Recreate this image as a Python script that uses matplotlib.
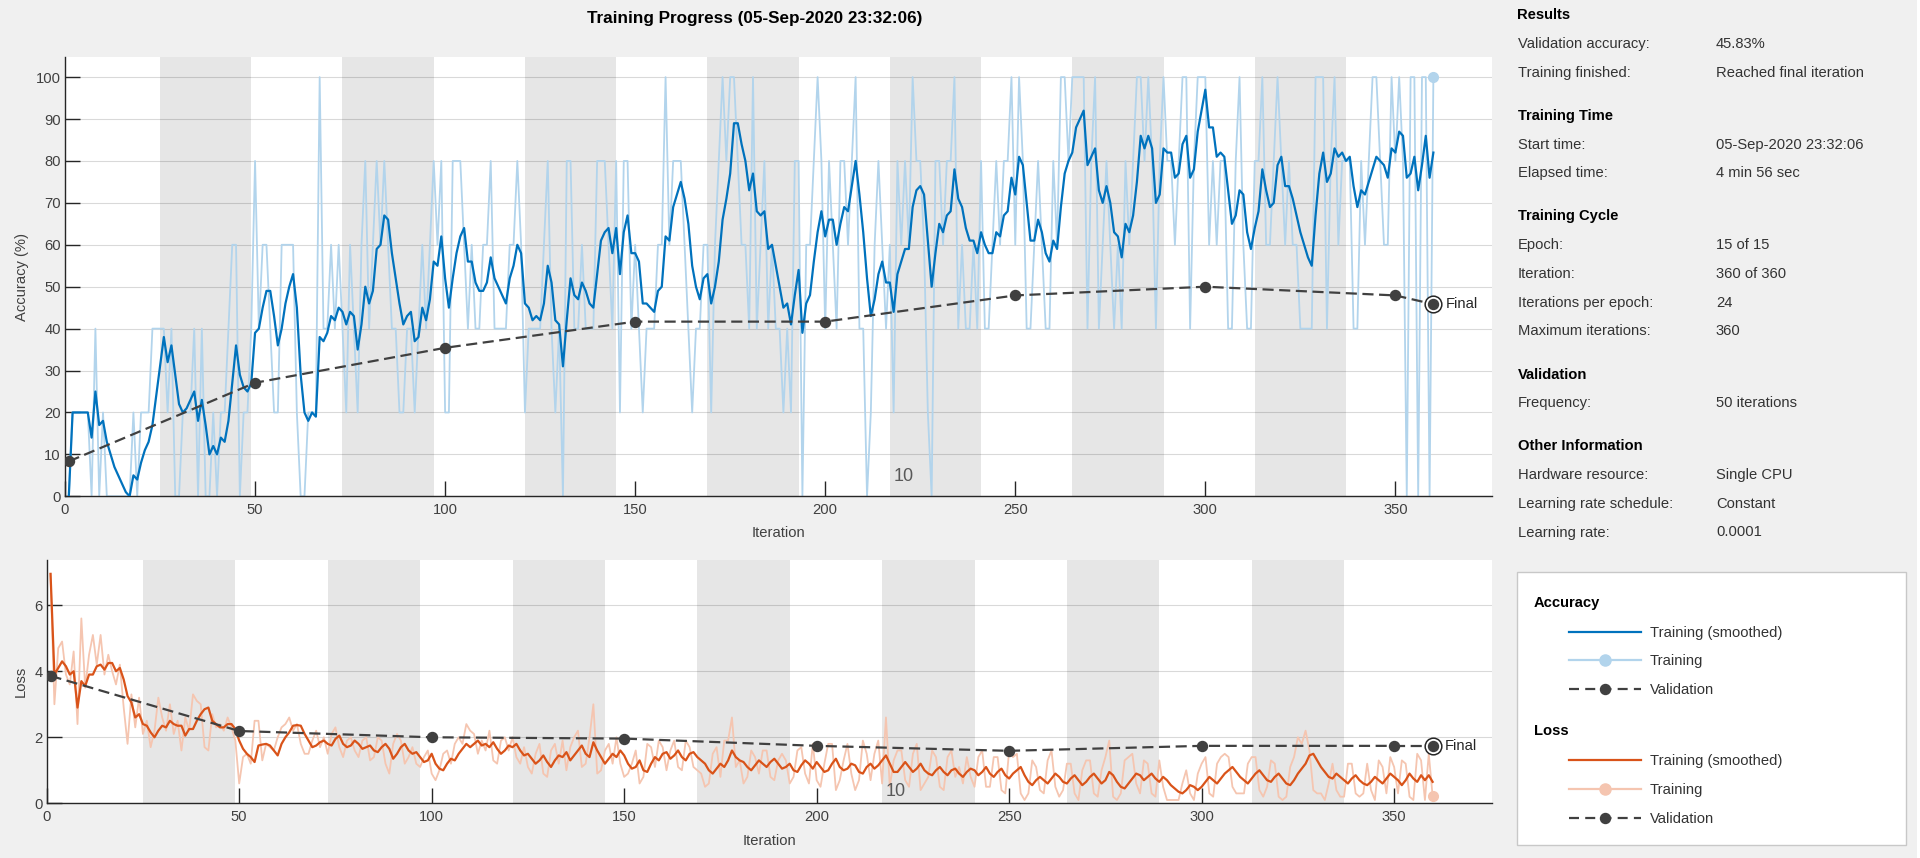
"""Training progress plot (accuracy + loss) in the style of the MATLAB monitor."""

import matplotlib.pyplot as plt
import numpy as np
from matplotlib.lines import Line2D
from matplotlib.patches import Rectangle

plt.rcParams["font.family"] = ["Liberation Sans", "DejaVu Sans"]

FS = 10.6
W, H = 1920, 858

ITER_PER_EPOCH = 24
N_EPOCH = 15

# training accuracy per iteration (mini-batch of 5 -> steps of 20 %)
ACC_TRAIN = [
    0, 20, 20, 20, 20, 20, 0, 40, 0, 20, 0, 0, 0, 0, 0, 0, 0, 20, 0, 20, 20, 20, 40, 40,
    40, 40, 20, 40, 0, 0, 20, 20, 20, 40, 0, 40, 0, 0, 20, 0, 20, 20, 40, 60, 60, 0, 20, 20,
    40, 80, 40, 60, 60, 40, 20, 20, 60, 60, 60, 60, 20, 0, 0, 20, 20, 20, 100, 40, 40, 60, 40, 60,
    40, 20, 60, 40, 20, 60, 80, 40, 60, 80, 60, 80, 60, 40, 40, 20, 20, 40, 40, 20, 40, 60, 40, 60,
    80, 60, 80, 20, 20, 80, 80, 80, 60, 40, 60, 40, 40, 60, 60, 80, 40, 40, 40, 40, 60, 60, 80, 60,
    20, 40, 40, 40, 40, 60, 80, 40, 20, 40, 0, 80, 80, 40, 40, 60, 40, 40, 40, 80, 80, 80, 60, 40,
    80, 20, 80, 80, 40, 60, 40, 20, 40, 40, 40, 60, 60, 100, 60, 80, 80, 80, 60, 40, 20, 40, 40, 60,
    60, 20, 60, 80, 100, 80, 100, 100, 80, 60, 60, 40, 100, 40, 60, 80, 40, 60, 40, 40, 20, 40, 20, 80,
    80, 0, 60, 60, 80, 100, 80, 40, 80, 60, 40, 80, 80, 60, 80, 100, 40, 40, 0, 20, 60, 80, 60, 40,
    60, 20, 80, 60, 80, 60, 100, 80, 80, 60, 20, 0, 80, 80, 60, 80, 80, 100, 40, 60, 40, 40, 60, 40,
    80, 40, 40, 60, 80, 60, 80, 80, 100, 60, 100, 80, 40, 40, 60, 80, 60, 40, 40, 80, 60, 100, 100, 80,
    100, 100, 100, 100, 40, 80, 100, 40, 60, 80, 60, 40, 60, 40, 80, 60, 80, 100, 100, 80, 100, 80, 40, 80,
    100, 80, 80, 60, 80, 100, 100, 40, 80, 100, 100, 100, 60, 80, 60, 80, 80, 40, 40, 80, 100, 60, 40, 40,
    80, 80, 100, 60, 60, 80, 100, 80, 60, 80, 60, 60, 40, 40, 40, 40, 100, 100, 100, 40, 80, 100, 60, 80,
    80, 80, 40, 40, 80, 60, 80, 100, 100, 80, 60, 60, 100, 80, 100, 80, 0, 100, 100, 0, 100, 100, 0, 100,
]

ACC_SMOOTH = [
    0, 20, 20, 20, 20, 20, 14, 25, 17, 18, 13, 10, 7, 5, 3, 1, 0, 5, 4, 8, 11, 13, 17, 24,
    31, 38, 32, 36, 29, 22, 20, 21, 23, 25, 18, 23, 17, 10, 12, 10, 14, 13, 18, 27, 36, 29, 26, 25,
    27, 39, 40, 45, 49, 49, 43, 36, 40, 46, 50, 53, 45, 29, 20, 18, 20, 19, 38, 37, 39, 43, 42, 45,
    44, 41, 44, 43, 35, 41, 50, 46, 49, 59, 60, 67, 66, 58, 52, 46, 41, 43, 44, 37, 38, 45, 42, 47,
    56, 55, 62, 52, 45, 52, 58, 62, 64, 56, 56, 51, 49, 49, 51, 57, 52, 50, 48, 46, 52, 55, 60, 58,
    46, 45, 42, 43, 42, 46, 55, 51, 42, 41, 31, 42, 52, 48, 47, 51, 49, 46, 45, 53, 61, 63, 64, 58,
    64, 53, 63, 67, 58, 58, 56, 46, 46, 45, 44, 49, 50, 62, 61, 69, 72, 75, 71, 65, 55, 50, 47, 52,
    53, 46, 50, 56, 66, 71, 77, 89, 89, 84, 80, 73, 77, 68, 67, 68, 59, 60, 55, 50, 45, 46, 41, 48,
    54, 39, 46, 48, 56, 63, 68, 62, 66, 66, 60, 65, 69, 68, 74, 80, 72, 63, 52, 43, 47, 53, 56, 51,
    51, 44, 53, 56, 59, 59, 69, 73, 74, 72, 61, 50, 58, 65, 63, 67, 68, 78, 71, 69, 64, 61, 61, 58,
    63, 60, 58, 58, 63, 62, 67, 68, 76, 72, 81, 79, 70, 61, 61, 66, 63, 58, 56, 61, 59, 69, 77, 80,
    82, 88, 90, 92, 79, 81, 83, 73, 70, 74, 70, 63, 62, 57, 65, 63, 67, 75, 86, 83, 86, 83, 70, 72,
    83, 82, 82, 76, 77, 84, 86, 76, 78, 87, 92, 97, 88, 88, 81, 82, 81, 73, 65, 67, 73, 72, 63, 59,
    64, 68, 78, 73, 69, 70, 79, 81, 74, 74, 71, 67, 63, 60, 57, 55, 67, 77, 82, 75, 77, 83, 81, 82,
    80, 81, 74, 69, 73, 72, 75, 78, 81, 80, 79, 76, 83, 82, 87, 86, 76, 77, 81, 73, 79, 86, 76, 82,
]

LOSS_TRAIN = [
    6.95, 3.0, 4.7, 4.9, 3.9, 3.6, 4.6, 2.4, 5.6, 3.5, 4.5, 5.1, 4.2, 5.1, 3.9, 4.5, 4.0, 3.6, 4.2, 2.9, 1.8, 3.3, 2.3, 3.2,
    2.1, 2.5, 1.7, 2.2, 3.2, 2.6, 2.2, 3.0, 2.1, 2.5, 1.6, 2.6, 2.2, 3.3, 3.1, 3.0, 1.7, 1.6, 2.7, 2.3, 2.4, 2.2, 2.6, 2.3,
    1.9, 0.6, 1.4, 1.5, 1.2, 2.5, 2.5, 1.3, 1.8, 1.7, 1.6, 2.0, 2.3, 2.4, 2.6, 2.2, 2.4, 1.8, 1.5, 1.5, 1.9, 2.2, 1.7, 2.0,
    1.5, 2.1, 2.3, 1.7, 1.4, 1.9, 2.0, 1.6, 1.4, 1.9, 2.0, 1.3, 1.4, 2.0, 1.9, 1.2, 0.9, 1.8, 2.1, 1.9, 1.2, 1.4, 1.7, 1.2,
    1.1, 1.4, 1.6, 0.9, 0.7, 1.0, 1.5, 1.6, 1.2, 1.8, 2.0, 1.8, 2.4, 2.2, 2.1, 1.5, 1.9, 1.6, 2.2, 1.3, 1.2, 1.9, 2.0, 1.6,
    2.0, 1.4, 1.2, 1.7, 1.1, 0.9, 1.5, 1.8, 0.9, 0.8, 1.6, 1.8, 1.2, 1.9, 1.0, 1.7, 2.0, 2.2, 1.1, 1.2, 2.0, 3.0, 0.9, 1.0,
    1.6, 1.8, 1.2, 2.0, 1.2, 0.8, 0.9, 1.2, 1.6, 0.6, 0.8, 1.8, 1.7, 1.1, 1.9, 1.7, 1.0, 1.6, 1.9, 1.1, 1.0, 1.9, 1.7, 1.1,
    1.0, 0.9, 0.5, 0.6, 1.5, 1.7, 0.8, 1.9, 1.9, 2.6, 1.1, 1.3, 0.6, 0.8, 1.6, 1.4, 0.9, 1.6, 1.6, 0.8, 0.7, 1.3, 1.5, 1.3,
    0.6, 0.8, 1.6, 1.7, 0.9, 0.6, 1.8, 0.7, 0.5, 1.2, 1.8, 1.8, 0.4, 0.7, 1.3, 1.8, 0.9, 0.4, 0.7, 1.9, 1.5, 0.7, 1.5, 1.9,
    0.6, 2.6, 0.5, 1.3, 1.6, 1.6, 0.7, 0.5, 1.5, 1.8, 0.4, 0.6, 0.8, 1.6, 1.4, 0.5, 0.4, 1.4, 1.6, 0.8, 1.1, 0.6, 1.4, 0.8,
    0.5, 1.4, 1.6, 0.5, 0.5, 1.4, 1.4, 0.4, 0.3, 1.6, 1.4, 1.5, 0.3, 0.1, 0.3, 1.3, 1.1, 0.4, 0.3, 1.3, 1.6, 0.5, 0.2, 0.4,
    1.2, 1.2, 0.3, 0.1, 1.0, 1.3, 1.3, 0.3, 0.2, 1.0, 1.4, 1.9, 0.2, 0.1, 0.3, 1.3, 1.4, 1.5, 0.6, 0.3, 1.3, 1.2, 0.3, 0.2,
    1.3, 0.5, 0.1, 0.1, 0.1, 0.1, 0.6, 1.0, 0.3, 0.1, 0.9, 1.2, 1.4, 0.3, 0.2, 1.2, 1.4, 1.5, 1.4, 0.5, 0.3, 0.3, 0.3, 1.2,
    1.4, 1.4, 0.4, 0.2, 0.5, 1.3, 1.2, 0.2, 0.1, 0.2, 1.1, 1.4, 2.0, 1.8, 2.2, 1.6, 0.4, 0.3, 0.3, 0.1, 0.6, 1.2, 0.4, 0.2,
    0.2, 1.2, 1.2, 0.3, 0.2, 0.3, 1.2, 0.4, 0.1, 1.3, 1.1, 0.3, 1.4, 1.1, 0.3, 1.3, 1.2, 0.2, 0.1, 1.5, 1.3, 0.1, 1.5, 0.22,
]

LOSS_SMOOTH = [
    6.95, 3.9, 4.1, 4.3, 4.15, 3.9, 4.0, 2.9, 3.7, 3.55, 3.9, 3.9, 4.15, 4.2, 4.05, 4.25, 4.25, 4.0, 4.1, 3.75, 3.25, 3.05, 2.6, 2.7,
    2.4, 2.35, 2.15, 2.0, 2.2, 2.35, 2.3, 2.5, 2.4, 2.35, 2.35, 2.05, 2.25, 2.25, 2.5, 2.7, 2.85, 2.9, 2.5, 2.4, 2.3, 2.3, 2.4, 2.4,
    2.25, 1.9, 1.65, 1.5, 1.4, 1.25, 1.75, 1.78, 1.8, 1.75, 1.6, 1.45, 1.8, 2.0, 2.15, 2.35, 2.37, 2.35, 2.1, 1.9, 1.7, 1.75, 1.85, 1.9,
    1.8, 1.75, 1.95, 2.05, 1.8, 1.7, 1.75, 1.9, 1.8, 1.65, 1.7, 1.75, 1.6, 1.55, 1.7, 1.8, 1.65, 1.35, 1.5, 1.7, 1.8, 1.6, 1.5, 1.55,
    1.4, 1.25, 1.3, 1.5, 1.2, 1.05, 1.0, 1.2, 1.35, 1.3, 1.5, 1.65, 1.8, 1.7, 1.8, 1.9, 1.75, 1.8, 1.7, 1.85, 1.65, 1.5, 1.6, 1.75,
    1.7, 1.8, 1.6, 1.45, 1.5, 1.35, 1.2, 1.3, 1.45, 1.25, 1.1, 1.3, 1.45, 1.4, 1.55, 1.3, 1.45, 1.6, 1.75, 1.5, 1.4, 1.85, 1.6, 1.4,
    1.2, 1.35, 1.5, 1.4, 1.6, 1.45, 1.2, 1.05, 1.1, 1.3, 1.0, 0.95, 1.2, 1.4, 1.3, 1.5, 1.55, 1.35, 1.45, 1.6, 1.4, 1.3, 1.5, 1.55,
    1.4, 1.3, 1.2, 1.0, 0.9, 1.05, 1.2, 1.1, 1.3, 1.6, 1.4, 1.3, 1.25, 1.1, 1.0, 1.15, 1.3, 1.2, 1.1, 1.25, 1.35, 1.2, 1.05, 1.1,
    1.2, 1.0, 0.95, 1.15, 1.3, 1.2, 1.05, 1.25, 1.1, 0.95, 1.0, 1.2, 1.35, 1.1, 1.0, 1.05, 1.2, 1.15, 0.95, 0.9, 1.1, 1.2, 1.05, 1.15,
    1.3, 1.45, 1.2, 0.95, 0.95, 1.1, 1.25, 1.1, 0.95, 1.05, 1.2, 1.0, 0.9, 0.85, 1.0, 1.1, 0.95, 0.85, 1.0, 1.05, 0.9, 0.8, 0.95, 1.05,
    1.0, 0.85, 0.95, 1.1, 0.9, 0.8, 0.95, 1.05, 0.85, 0.75, 0.9, 1.0, 1.1, 0.85, 0.65, 0.55, 0.7, 0.8, 0.7, 0.6, 0.75, 0.9, 0.8, 0.65,
    0.6, 0.75, 0.85, 0.7, 0.55, 0.65, 0.8, 0.9, 0.75, 0.6, 0.7, 0.95, 0.85, 0.65, 0.5, 0.45, 0.6, 0.75, 0.9, 0.85, 0.7, 0.8, 0.9, 0.75,
    0.65, 0.8, 0.7, 0.55, 0.45, 0.35, 0.3, 0.4, 0.55, 0.5, 0.4, 0.5, 0.65, 0.8, 0.7, 0.6, 0.75, 0.9, 1.0, 1.1, 0.95, 0.8, 0.7, 0.6,
    0.75, 0.9, 1.0, 0.85, 0.7, 0.65, 0.8, 0.9, 0.75, 0.6, 0.55, 0.7, 0.9, 1.05, 1.2, 1.45, 1.5, 1.3, 1.1, 0.95, 0.8, 0.75, 0.9, 0.8,
    0.7, 0.6, 0.75, 0.85, 0.7, 0.6, 0.55, 0.65, 0.8, 0.7, 0.6, 0.75, 0.9, 0.8, 0.7, 0.55, 0.7, 0.9, 0.75, 0.65, 0.85, 0.7, 0.85, 0.65,
]

VAL_ITER = [1, 50, 100, 150, 200, 250, 300, 350, 360]
VAL_ACC = [8.33, 27.08, 35.42, 41.67, 41.67, 47.92, 50.00, 47.92, 45.83]
VAL_LOSS = [3.86, 2.19, 2.00, 1.96, 1.74, 1.59, 1.74, 1.74, 1.74]

XTICKS = [0, 50, 100, 150, 200, 250, 300, 350]
ACC_YTICKS = list(range(0, 101, 10))
LOSS_YTICKS = [0, 2, 4, 6]

TITLE = "Training Progress (05-Sep-2020 23:32:06)"

INFO = [
    ("Results", [("Validation accuracy:", "45.83%"),
                 ("Training finished:", "Reached final iteration")]),
    ("Training Time", [("Start time:", "05-Sep-2020 23:32:06"),
                       ("Elapsed time:", "4 min 56 sec")]),
    ("Training Cycle", [("Epoch:", "15 of 15"),
                        ("Iteration:", "360 of 360"),
                        ("Iterations per epoch:", "24"),
                        ("Maximum iterations:", "360")]),
    ("Validation", [("Frequency:", "50 iterations")]),
    ("Other Information", [("Hardware resource:", "Single CPU"),
                           ("Learning rate schedule:", "Constant"),
                           ("Learning rate:", "0.0001")]),
]

C_ACC = "#0072bd"
C_ACC_RAW = "#b2d4ec"
C_LOSS = "#d95319"
C_LOSS_RAW = "#f5c5b0"
C_VAL = "#404040"
C_AX = "#262626"
C_TXT = "#404040"
C_BAND = "#e6e6e6"
BG = "#f0f0f0"


def px_rect(x0, y0, x1, y1):
    # pixel box (top-left origin) -> figure fraction rect
    return [x0 / W, 1 - y1 / H, (x1 - x0) / W, (y1 - y0) / H]


def style_axes(ax, yticks, ylim):
    ax.set_facecolor("white")
    for s in ("top", "right"):
        ax.spines[s].set_visible(False)
    for s in ("left", "bottom"):
        ax.spines[s].set_color(C_AX)
        ax.spines[s].set_linewidth(1.0)
    ax.set_xlim(0, 375.5)
    ax.set_ylim(*ylim)
    ax.set_xticks(XTICKS)
    ax.set_yticks(yticks)
    ax.tick_params(direction="in", length=10.5, width=1.0, color=C_AX,
                   labelcolor=C_TXT, labelsize=FS)
    ax.tick_params(axis="x", pad=5)
    ax.tick_params(axis="y", pad=3)
    ax.yaxis.grid(True, color="k", alpha=0.15, lw=0.8)
    ax.set_axisbelow(True)
    for ep in range(2, N_EPOCH + 1, 2):
        ax.axvspan((ep - 1) * ITER_PER_EPOCH + 1, ep * ITER_PER_EPOCH + 1,
                   color=C_BAND, lw=0, zorder=0.1)


def final_marker(ax, x, y):
    ax.plot([x], [y], "o", ms=12, mfc="white", mec=C_AX, mew=1.1, zorder=6)
    ax.plot([x], [y], "o", ms=7.2, color=C_VAL, zorder=7)
    ax.annotate("Final", (x, y), xytext=(9, 0), textcoords="offset points",
                ha="left", va="center", fontsize=FS, color=C_AX)


it = np.arange(1, len(ACC_TRAIN) + 1)

fig = plt.figure(figsize=(W / 100, H / 100), dpi=100, facecolor=BG)

# ---- accuracy
ax1 = fig.add_axes(px_rect(65, 57, 1492.3, 496.3))
style_axes(ax1, ACC_YTICKS, (0, 104.8))
ax1.plot(it, ACC_TRAIN, color=C_ACC_RAW, lw=1.3, zorder=2)
ax1.plot([it[-1]], [ACC_TRAIN[-1]], "o", ms=7, color=C_ACC_RAW, zorder=2)
ax1.plot(it, ACC_SMOOTH, color=C_ACC, lw=1.6, zorder=3)
ax1.plot(VAL_ITER[:-1], VAL_ACC[:-1], "--o", color=C_VAL, lw=1.6, ms=7.2,
         dashes=(5, 2.5), zorder=4)
ax1.plot(VAL_ITER[-2:], VAL_ACC[-2:], "--", color=C_VAL, lw=1.6, dashes=(5, 2.5), zorder=4)
final_marker(ax1, VAL_ITER[-1], VAL_ACC[-1])
ax1.text(218, 4.7, "10", ha="left", va="center", fontsize=13, color="#595959")
ax1.set_ylabel("Accuracy (%)", fontsize=FS, color=C_TXT)
ax1.yaxis.label.set_va("center")
ax1.yaxis.set_label_coords(-0.0301, 0.5)
ax1.set_xlabel("Iteration", fontsize=FS, color=C_TXT)
ax1.xaxis.label.set_va("center")
ax1.xaxis.set_label_coords(0.5, -0.0829)

# ---- loss
ax2 = fig.add_axes(px_rect(46.7, 560, 1492.3, 803.3))
style_axes(ax2, LOSS_YTICKS, (0, 7.37))
ax2.plot(it, LOSS_TRAIN, color=C_LOSS_RAW, lw=1.3, zorder=2)
ax2.plot([it[-1]], [LOSS_TRAIN[-1]], "o", ms=7, color=C_LOSS_RAW, zorder=2)
ax2.plot(it, LOSS_SMOOTH, color=C_LOSS, lw=1.6, zorder=3)
ax2.plot(VAL_ITER[:-1], VAL_LOSS[:-1], "--o", color=C_VAL, lw=1.6, ms=7.2,
         dashes=(5, 2.5), zorder=4)
ax2.plot(VAL_ITER[-2:], VAL_LOSS[-2:], "--", color=C_VAL, lw=1.6, dashes=(5, 2.5), zorder=4)
final_marker(ax2, VAL_ITER[-1], VAL_LOSS[-1])
ax2.text(218, 0.36, "10", ha="left", va="center", fontsize=13, color="#595959")
ax2.set_ylabel("Loss", fontsize=FS, color=C_TXT)
ax2.yaxis.label.set_va("center")
ax2.yaxis.set_label_coords(-0.0181, 0.5)
ax2.set_xlabel("Iteration", fontsize=FS, color=C_TXT)
ax2.xaxis.label.set_va("center")
ax2.xaxis.set_label_coords(0.5, -0.157)

fig.text(755 / W, 1 - 19 / H, TITLE, ha="center", va="center",
         fontsize=12.3, weight="bold", color="black")

# ---- info panel
row_y = [15, 43.9, 72.9, 116, 144.6, 173.2, 216, 245, 273.9, 302.9, 331,
         375, 402.9, 445.7, 475, 503.9, 532.5]
k = 0
for head, rows in INFO:
    fig.text(1517.5 / W, 1 - row_y[k] / H, head, ha="left", va="center",
             fontsize=FS, weight="bold", color="black")
    k += 1
    for lab, val in rows:
        fig.text(1517.5 / W, 1 - row_y[k] / H, lab, ha="left", va="center",
                 fontsize=FS, color="#333333")
        fig.text(1716 / W, 1 - row_y[k] / H, val, ha="left", va="center",
                 fontsize=FS, color="#333333")
        k += 1

# ---- legend box
fig.patches.append(Rectangle((1517.3 / W, 1 - 845 / H), (1905.7 - 1517.3) / W,
                             (845 - 572.3) / H, transform=fig.transFigure,
                             facecolor="white", edgecolor="#c8c8c8", lw=1.0, zorder=0))
fig.patches.append(Rectangle((1917 / W, 0), 3 / W, 1, transform=fig.transFigure,
                             facecolor="white", edgecolor="none", zorder=0))

val_handle = Line2D([], [], color=C_VAL, lw=1.6, ls="--", dashes=(4.5, 2.8),
                    marker="o", ms=7.2)
groups = [
    ("Accuracy", 602.7, 630.7,
     [Line2D([], [], color=C_ACC, lw=1.6),
      Line2D([], [], color=C_ACC_RAW, lw=1.6, marker="o", ms=8),
      val_handle]),
    ("Loss", 730.7, 759.3,
     [Line2D([], [], color=C_LOSS, lw=1.6),
      Line2D([], [], color=C_LOSS_RAW, lw=1.6, marker="o", ms=8),
      val_handle]),
]
labels = ["Training (smoothed)", "Training", "Validation"]
for head, hy, first_y, handles in groups:
    fig.text(1533.7 / W, 1 - hy / H, head, ha="left", va="center",
             fontsize=FS, weight="bold", color="black")
    leg = fig.legend(handles, labels, loc="upper left",
                     bbox_to_anchor=(1569 / W, 1 - (first_y - 5) / H),
                     frameon=False, fontsize=FS, handlelength=4.9,
                     handletextpad=0.6, labelspacing=1.0, borderpad=0,
                     borderaxespad=0, numpoints=1)
    for t in leg.get_texts():
        t.set_color("#333333")

fig.savefig("out.png", dpi=100, facecolor=BG)
